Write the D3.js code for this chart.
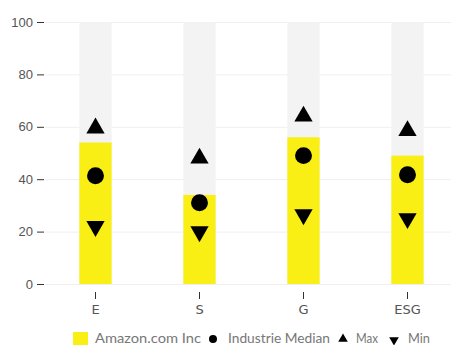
<!DOCTYPE html>
<html>
<head>
<meta charset="utf-8">
<script src="https://cdn.jsdelivr.net/npm/d3@7"></script>
<style>
  body { margin: 0; background: #fff; }
  text { font-family: "Liberation Sans", Arial, sans-serif; }
</style>
</head>
<body>
<div id="chart"></div>
<script>
var categories = ["E", "S", "G", "ESG"];
var companyValues = [54, 34, 56, 49];
var medianValues = [41.3, 31, 49, 41.7];
var maxValues = [59.5, 48, 64, 58.5];
var minValues = [22, 20, 26.5, 25];
var yTicks = [0, 20, 40, 60, 80, 100];
var legendLabels = ["Amazon.com Inc", "Industrie Median", "Max", "Min"];

var width = 451;
var height = 345;

var svg = d3.select('#chart')
  .append('svg')
  .attr('width', width)
  .attr('height', height);

var x = d3.scaleBand()
  .domain(categories)
  .range([43.5, 459.5])
  .paddingInner(0.69)
  .paddingOuter(0.345);

var y = d3.scaleLinear()
  .domain([0, 100])
  .range([284, 22]);

// grid
svg.selectAll('.grid')
  .data(yTicks)
  .enter()
  .append('line')
  .attr('x1', 45)
  .attr('x2', width)
  .attr('y1', function(d) { return y(d) + 0.5; })
  .attr('y2', function(d) { return y(d) + 0.5; })
  .attr('stroke', '#efefef')
  .attr('stroke-width', 1);

// y axis
var yAxis = svg.append('g')
  .attr('transform', 'translate(44,0)')
  .call(d3.axisLeft(y).tickValues(yTicks).tickSize(7).tickPadding(4));
yAxis.select('.domain').remove();
yAxis.selectAll('line').attr('stroke', '#333');
yAxis.selectAll('text').attr('fill', '#555').style('font-size', '13px');

// background bars
svg.selectAll('.bg')
  .data(categories)
  .enter()
  .append('rect')
  .attr('x', function(d) { return x(d); })
  .attr('y', y(100))
  .attr('width', x.bandwidth())
  .attr('height', y(0) - y(100))
  .attr('fill', '#f3f3f3');

// company bars
svg.selectAll('.bar')
  .data(companyValues)
  .enter()
  .append('rect')
  .attr('x', function(d, i) { return x(categories[i]); })
  .attr('y', function(d) { return y(d); })
  .attr('width', x.bandwidth())
  .attr('height', function(d) { return y(0) - y(d); })
  .attr('fill', '#f9ef14');

var cx = function(i) { return x(categories[i]) + x.bandwidth() / 2; };

var circle = d3.symbol().type(d3.symbolCircle).size(225);
var tri = d3.symbol().type(d3.symbolTriangle).size(145);

svg.selectAll('.median')
  .data(medianValues)
  .enter()
  .append('path')
  .attr('d', circle)
  .attr('transform', function(d, i) { return 'translate(' + cx(i) + ',' + y(d) + ')'; })
  .attr('fill', '#000');

svg.selectAll('.max')
  .data(maxValues)
  .enter()
  .append('path')
  .attr('d', tri)
  .attr('transform', function(d, i) { return 'translate(' + cx(i) + ',' + y(d) + ')'; })
  .attr('fill', '#000');

svg.selectAll('.min')
  .data(minValues)
  .enter()
  .append('path')
  .attr('d', tri)
  .attr('transform', function(d, i) { return 'translate(' + cx(i) + ',' + y(d) + ') rotate(180)'; })
  .attr('fill', '#000');

// x axis
var xAxis = svg.append('g')
  .attr('transform', 'translate(0,292)')
  .call(d3.axisBottom(x).tickSize(7).tickPadding(6));
xAxis.select('.domain').remove();
xAxis.selectAll('line').attr('stroke', '#333');
xAxis.selectAll('text').attr('fill', '#555').style('font-size', '13px')
  .style('font-family', '"DejaVu Sans", sans-serif');

// legend
var legend = svg.append('g').attr('transform', 'translate(0,338)');
var legendX = [73, 213, 343, 394];
var textX = [95, 228, 356, 408];
var textW = [106, 102, 22, 22];

legend.append('rect')
  .attr('x', legendX[0])
  .attr('y', -6)
  .attr('width', 15)
  .attr('height', 15)
  .attr('fill', '#f9ef14');
legend.append('path')
  .attr('d', d3.symbol().type(d3.symbolCircle).size(50))
  .attr('transform', 'translate(' + legendX[1] + ',1)');
legend.append('path')
  .attr('d', d3.symbol().type(d3.symbolTriangle).size(40))
  .attr('transform', 'translate(' + legendX[2] + ',1)');
legend.append('path')
  .attr('d', d3.symbol().type(d3.symbolTriangle).size(40))
  .attr('transform', 'translate(' + legendX[3] + ',2) rotate(180)');

legend.selectAll('.lt')
  .data(legendLabels)
  .enter()
  .append('text')
  .attr('x', function(d, i) { return textX[i]; })
  .attr('y', 5)
  .attr('fill', '#777')
  .attr('textLength', function(d, i) { return textW[i]; })
  .attr('lengthAdjust', 'spacingAndGlyphs')
  .style('font-size', '14px')
  .style('font-family', 'Lato, sans-serif')
  .text(function(d) { return d; });
</script>
</body>
</html>
